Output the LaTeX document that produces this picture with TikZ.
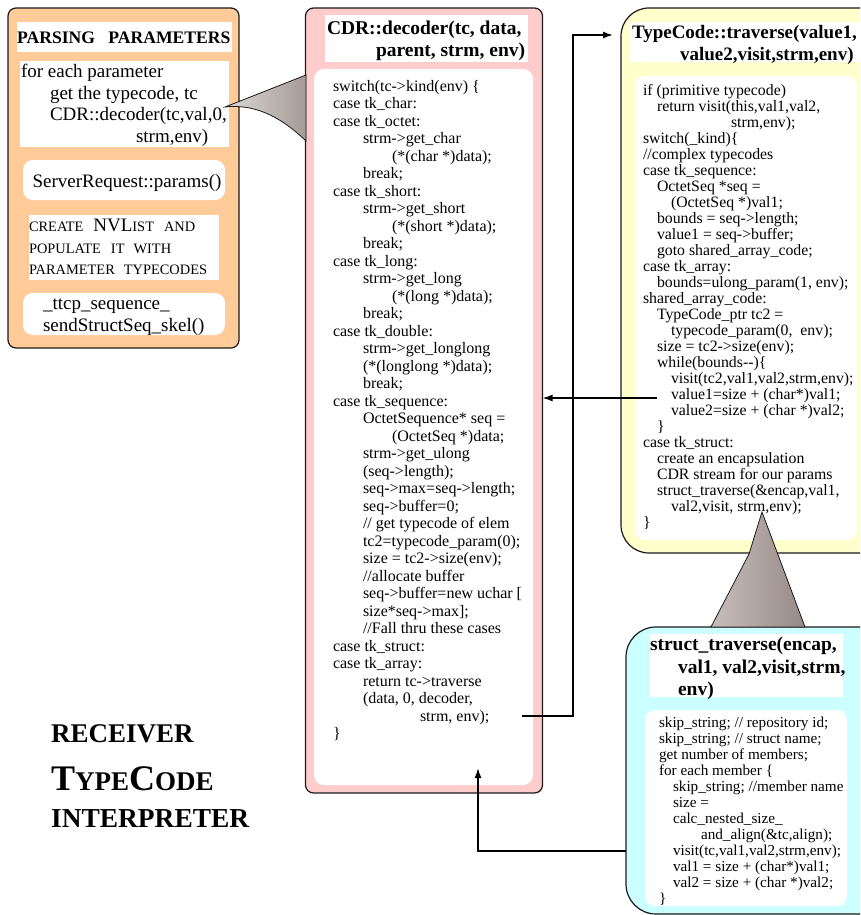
\documentclass[tikz,border=0pt]{standalone}
\usepackage{fontspec}
\setmainfont{Liberation Serif}
\usetikzlibrary{arrows.meta,calc}
\definecolor{orangefill}{HTML}{FFCC99}
\definecolor{pinkfill}{HTML}{FFCCCC}
\definecolor{yellowfill}{HTML}{FFFFCC}
\definecolor{cyanfill}{HTML}{CCFFFF}
\definecolor{bordc}{HTML}{1A1A1A}
\definecolor{callL}{RGB}{220,216,214}
\definecolor{callR}{RGB}{165,155,152}
\definecolor{callLb}{RGB}{200,190,187}
\definecolor{callRb}{RGB}{150,138,135}
\newcommand\myind[1]{\hspace*{#1pt}}
\newcommand\smc[1]{{\fontsize{14.4}{21.5}\selectfont #1}}
\tikzset{
  outerbox/.style={draw=bordc, line width=1.2pt, anchor=north west, inner sep=0pt, outer sep=0pt},
  whitebox/.style={fill=white, anchor=north west, inner sep=0pt, outer sep=0pt},
  codetext/.style={anchor=north west, inner sep=0pt, outer sep=0pt, align=left},
  calloutshape/.style={draw=bordc, line width=0.8pt},
  arr/.style={draw=black, line width=1.5pt, -{Latex[length=10pt,width=7pt]}},
}
\begin{document}
\begin{tikzpicture}[x=1pt,y=-1pt]
\useasboundingbox (0,0) rectangle (860,915);
\clip (0,0) rectangle (860,915);

% ---------------- orange box
\node[outerbox, fill=orangefill, rounded corners=8pt, minimum width=231pt, minimum height=340pt] (orange) at (8,8) {};
\node[whitebox, minimum width=215pt, minimum height=30pt] (parsebg) at (17,22) {};
\node[anchor=base west, inner sep=0pt, font=\fontsize{17.6}{20}\selectfont\bfseries] (parsetitle) at (17,44) {PARSING\hspace{9pt} PARAMETERS};
\node[whitebox, minimum width=209pt, minimum height=86pt] (parambg) at (20,61) {};
\node[codetext, font=\fontsize{19}{21.5}\selectfont] (paramtext) at (21,62.5) {\strut for each parameter\\
\myind{29}get the typecode, tc\\
\myind{29}CDR::decoder(tc,val,0,\\
\myind{115}strm,env)};
\node[whitebox, rounded corners=10pt, minimum width=202pt, minimum height=40pt] (srvbg) at (23,160) {};
\node[inner sep=0pt, font=\fontsize{19}{22}\selectfont] (srvtext) at (127,183) {ServerRequest::params()};
\node[whitebox, minimum width=190pt, minimum height=65pt] (nvbg) at (29,215) {};
\node[codetext, font=\fontsize{19}{21.5}\selectfont] (nvtext) at (29,216.7) {\strut\smc{CREATE}\hspace{10pt}NVL\smc{IST}\hspace{10pt}\smc{AND}\\
\smc{POPULATE}\hspace{10pt}\smc{IT}\hspace{9pt}\smc{WITH}\\
\smc{PARAMETER}\hspace{9pt}\smc{TYPECODES}};
\node[whitebox, rounded corners=10pt, minimum width=202pt, minimum height=42pt] (ttcpbg) at (23,293) {};
\node[codetext, font=\fontsize{19}{22}\selectfont] (ttcptext) at (43,293.9) {\strut\_ttcp\_sequence\_\\
sendStructSeq\_skel()};

% ---------------- pink box
\node[outerbox, fill=pinkfill, rounded corners=8pt, minimum width=237pt, minimum height=785pt] (pink) at (305.5,8) {};
\node[whitebox, minimum width=203pt, minimum height=47pt] (pinktitlebg) at (325,15) {};
\node[codetext, font=\fontsize{19.5}{22}\selectfont\bfseries] (pinktitle) at (327,19.1) {\strut CDR::decoder(tc, data,\\
\myind{49}parent, strm, env)};
\node[whitebox, rounded corners=10pt, minimum width=219pt, minimum height=716pt] (pinkcodebg) at (314,69) {};
\node[codetext, font=\fontsize{16}{17.5}\selectfont] (pinkcode) at (333,79) {\strut switch(tc->kind(env) \{\\
case tk\_char:\\
case tk\_octet:\\
\myind{30}strm->get\_char\\
\myind{59}(*(char *)data);\\
\myind{30}break;\\
case tk\_short:\\
\myind{30}strm->get\_short\\
\myind{59}(*(short *)data);\\
\myind{30}break;\\
case tk\_long:\\
\myind{30}strm->get\_long\\
\myind{59}(*(long *)data);\\
\myind{30}break;\\
case tk\_double:\\
\myind{30}strm->get\_longlong\\
\myind{30}(*(longlong *)data);\\
\myind{30}break;\\
case tk\_sequence:\\
\myind{30}OctetSequence* seq =\\
\myind{59}(OctetSeq *)data;\\
\myind{30}strm->get\_ulong\\
\myind{30}(seq->length);\\
\myind{30}seq->max=seq->length;\\
\myind{30}seq->buffer=0;\\
\myind{30}// get typecode of elem\\
\myind{30}tc2=typecode\_param(0);\\
\myind{30}size = tc2->size(env);\\
\myind{30}//allocate buffer\\
\myind{30}seq->buffer=new uchar [\\
\myind{30}size*seq->max];\\
\myind{30}//Fall thru these cases\\
case tk\_struct:\\
case tk\_array:\\
\myind{30}return tc->traverse\\
\myind{30}(data, 0, decoder,\\
\myind{87}strm, env);\\
\}};

% ---------------- callout orange -> pink
\shade[calloutshape, left color=callL, right color=callR]
  (225,107) -- (306,75) -- (306,141) .. controls (278,114) and (252,104) .. (225,107) -- cycle;

% ---------------- yellow box
\node[outerbox, fill=yellowfill, rounded corners=28pt, minimum width=270pt, minimum height=545pt] (yellow) at (621,8) {};
\node[whitebox, minimum width=240pt, minimum height=40pt] (yeltitlebg) at (630,22) {};
\node[codetext, font=\fontsize{19}{22}\selectfont\bfseries] (yeltitle) at (632,23.1) {\strut TypeCode::traverse(value1,\\
\myind{48}value2,visit,strm,env)};
\node[whitebox, rounded corners=10pt, minimum width=222pt, minimum height=464pt] (yelcodebg) at (635,76) {};
\node[codetext, font=\fontsize{15.8}{16}\selectfont] (yelcode) at (643,84) {\strut if (primitive typecode)\\
\myind{14}return visit(this,val1,val2,\\
\myind{88}strm,env);\\
switch(\_kind)\{\\
//complex typecodes\\
case tk\_sequence:\\
\myind{14}OctetSeq *seq =\\
\myind{28}(OctetSeq *)val1;\\
\myind{14}bounds = seq->length;\\
\myind{14}value1 = seq->buffer;\\
\myind{14}goto shared\_array\_code;\\
case tk\_array:\\
\myind{14}bounds=ulong\_param(1, env);\\
shared\_array\_code:\\
\myind{14}TypeCode\_ptr tc2 =\\
\myind{28}typecode\_param(0, \ env);\\
\myind{14}size = tc2->size(env);\\
\myind{14}while(bounds-{}-)\{\\
\myind{28}visit(tc2,val1,val2,strm,env);\\
\myind{28}value1=size + (char*)val1;\\
\myind{28}value2=size + (char *)val2;\\
\myind{14}\}\\
case tk\_struct:\\
\myind{14}create an encapsulation\\
\myind{14}CDR stream for our params\\
\myind{14}struct\_traverse(\&encap,val1,\\
\myind{28}val2,visit, strm,env);\\
\}};

% ---------------- cyan box
\node[outerbox, fill=cyanfill, rounded corners=30pt, minimum width=270pt, minimum height=287pt] (cyan) at (626,627) {};
\node[whitebox, minimum width=193pt, minimum height=63pt] (cyantitlebg) at (650,634) {};
\node[codetext, font=\fontsize{19.5}{22.5}\selectfont\bfseries] (cyantitle) at (650,634.75) {\strut struct\_traverse(encap,\\
\myind{28}val1, val2,visit,strm,\\
\myind{28}env)};
\node[whitebox, rounded corners=10pt, minimum width=202pt, minimum height=196pt] (cyancodebg) at (645,710) {};
\node[codetext, font=\fontsize{15.2}{16}\selectfont] (cyancode) at (659,716.5) {\strut skip\_string; // repository id;\\
skip\_string; // struct name;\\
get number of members;\\
for each member \{\\
\myind{14}skip\_string; //member name\\
\myind{14}size =\\
\myind{14}calc\_nested\_size\_\\
\myind{42}and\_align(\&tc,align);\\
\myind{14}visit(tc,val1,val2,strm,env);\\
\myind{14}val1 = size + (char*)val1;\\
\myind{14}val2 = size + (char *)val2;\\
\}};

% ---------------- callout yellow -> cyan
\shade[calloutshape, left color=callLb, right color=callRb]
  (762,512) -- (749,554) -- (711,627) -- (805,627) -- cycle;

% ---------------- big title
\node[anchor=base west, inner sep=0pt, font=\fontsize{27}{30}\selectfont\bfseries] (title1) at (51,742) {RECEIVER};
\node[anchor=base west, inner sep=0pt, font=\bfseries] (title2) at (51,790) {{\fontsize{36}{40}\selectfont T}{\fontsize{27}{30}\selectfont YPE}{\fontsize{36}{40}\selectfont C}{\fontsize{27}{30}\selectfont ODE}};
\node[anchor=base west, inner sep=0pt, font=\fontsize{27.4}{30}\selectfont\bfseries] (title3) at (51,827) {INTERPRETER};

% ---------------- connectors
\coordinate (trvFrom) at (522,716);
\coordinate (trvTo) at (613,35);
\draw[arr] (trvFrom) -- ++(51,0) |- (trvTo);

\coordinate (retFrom) at (657,398);
\draw[arr] (retFrom) -- (retFrom -| pink.east);

\coordinate (stFrom) at (626,851);
\coordinate (stTo) at (478,768);
\draw[arr] (stFrom) -| (stTo);
\end{tikzpicture}
\end{document}
